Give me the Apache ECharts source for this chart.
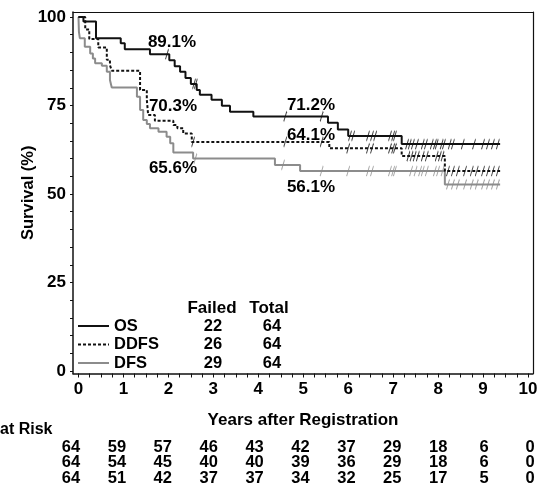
<!DOCTYPE html>
<html>
<head>
<meta charset="utf-8">
<script src="https://cdn.jsdelivr.net/npm/echarts@6/dist/echarts.min.js"></script>
<style>
  html, body { margin: 0; padding: 0; background: #fff; }
  #chart { width: 546px; height: 490px; }
</style>
</head>
<body>
<div id="chart"></div>
<script>
const FONT = '"Liberation Sans", Arial, Helvetica, sans-serif';

// Kaplan-Meier steps [years, survival %]
const osSteps = [
  [0, 100], [0.11, 98.7], [0.39, 94.0], [0.94, 92.6], [1.03, 90.9], [1.59, 89.5],
  [2.02, 87.8], [2.14, 86.1], [2.26, 84.5], [2.38, 82.8], [2.5, 81.1], [2.63, 79.4],
  [2.7, 78.0], [2.96, 76.6], [3.19, 74.9], [3.37, 73.2], [3.89, 71.9],
  [5.55, 70.1], [5.77, 68.2], [6.0, 66.4], [7.19, 64.1], [9.38, 64.1]
];
const ddfsSteps = [
  [0, 100], [0.15, 96.5], [0.24, 93.8], [0.44, 91.4], [0.63, 87.9], [0.7, 86.4],
  [0.74, 84.8], [1.37, 79.4], [1.52, 76.6], [1.55, 72.3], [1.7, 70.7], [2.11, 69.5],
  [2.2, 68.6], [2.33, 67.1], [2.52, 64.7], [5.58, 62.9], [7.19, 60.7], [8.15, 56.5],
  [9.38, 56.5]
];
const dfsSteps = [
  [0, 100], [0.01, 95.8], [0.03, 94.0], [0.14, 91.6], [0.26, 89.7], [0.32, 88.3],
  [0.37, 86.9], [0.52, 86.2], [0.63, 84.5], [0.7, 82.2], [0.74, 80.1], [1.3, 77.5],
  [1.37, 73.7], [1.44, 70.9], [1.52, 69.8], [1.59, 68.6], [1.78, 67.6], [1.96, 66.2],
  [2.04, 64.3], [2.11, 61.7], [2.55, 60.0], [4.37, 58.2], [4.93, 56.5], [8.15, 52.7],
  [9.38, 52.7]
];

// censoring times (years)
const osCensor = [1.97, 2.57, 2.61, 4.6, 5.41, 6.04, 6.11, 6.44, 6.53, 6.6, 6.93, 7.0, 7.04,
  7.31, 7.37, 7.44, 7.53, 7.66, 7.73, 7.86, 7.93, 7.97, 8.08, 8.13, 8.26, 8.33, 8.55,
  8.8, 9.0, 9.11, 9.22, 9.33];
const ddfsCensor = [2.55, 4.6, 5.41, 6.0, 6.44, 6.53, 6.93, 7.0, 7.04, 7.34, 7.41, 7.48,
  7.55, 7.66, 7.75, 7.97, 8.04, 8.1, 8.22, 8.33, 8.44, 8.6, 8.75, 8.86, 9.0, 9.11, 9.22, 9.33];
const dfsCensor = [2.6, 4.55, 5.41, 6.0, 6.44, 6.53, 6.93, 7.0, 7.04, 7.4, 7.5, 7.6, 7.66,
  7.75, 7.93, 8.0, 8.1, 8.22, 8.33, 8.44, 8.6, 8.75, 8.86, 9.0, 9.11, 9.22, 9.33];

const groupNames = ['OS', 'DDFS', 'DFS'];
const failedCounts = [22, 26, 29];
const totalCounts = [64, 64, 64];

const riskYears = [0, 1, 2, 3, 4, 5, 6, 7, 8, 9, 10];
const riskOS = [64, 59, 57, 46, 43, 42, 37, 29, 18, 6, 0];
const riskDDFS = [64, 54, 45, 40, 40, 39, 36, 29, 18, 6, 0];
const riskDFS = [64, 51, 42, 37, 37, 34, 32, 25, 17, 5, 0];

const xTickLabels = [0, 1, 2, 3, 4, 5, 6, 7, 8, 9, 10];
const xMinorTicks = Array.from({ length: 41 }, (_, i) => i * 0.25);
const yTickLabels = [0, 25, 50, 75, 100];
const yMinorTicks = Array.from({ length: 21 }, (_, i) => i * 5);

// survival value of a step curve at time t
const stepAt = (steps, t) => {
  let v = steps[0][1];
  steps.forEach(([x, y]) => { if (x <= t) v = y; });
  return v;
};

const chart = echarts.init(document.getElementById('chart'), null, { renderer: 'canvas' });

const black = '#111';
const grey = '#8c8c8c';
const tickPath = 'path://M3,0L0,9';

const censorSeries = (name, times, steps, color) => ({
  name: name + ' censored',
  type: 'scatter',
  xAxisIndex: 0,
  yAxisIndex: 0,
  symbol: tickPath,
  symbolSize: [3, 10],
  itemStyle: { color: 'rgba(0,0,0,0)', borderColor: color, borderWidth: 1.3 },
  data: times.map((t) => [t, stepAt(steps, t)]),
  silent: true,
  z: 3
});

const riskData = [];
[riskOS, riskDDFS, riskDFS].forEach((row, r) => {
  row.forEach((n, i) => riskData.push([riskYears[i], r, n]));
});

const textStyle = { color: '#000', fontFamily: FONT, fontWeight: 'bold' };
const bold17 = `bold 17px ${FONT}`;

const option = {
  animation: false,
  backgroundColor: '#fff',
  textStyle: { fontFamily: FONT },
  grid: [
    { left: 73, right: 13, top: 12, bottom: 116.5 },
    { left: 71, right: 16, top: 447.5, height: 30.5 }
  ],
  xAxis: [
    {
      gridIndex: 0,
      type: 'value',
      min: -0.122,
      max: 10.111,
      name: 'Years after Registration',
      nameLocation: 'middle',
      nameGap: 38,
      nameTextStyle: { ...textStyle, fontSize: 17 },
      axisLine: { show: true, onZero: false, lineStyle: { color: black, width: 1.5 } },
      axisTick: { show: true, customValues: xMinorTicks, length: 4, lineStyle: { color: black, width: 1 } },
      axisLabel: { customValues: xTickLabels, ...textStyle, fontSize: 17, margin: 7 },
      splitLine: { show: false }
    },
    {
      gridIndex: 0,
      type: 'value',
      position: 'top',
      min: -0.122,
      max: 10.111,
      axisLine: { show: true, onZero: false, lineStyle: { color: black, width: 1.2 } },
      axisTick: { show: false },
      axisLabel: { show: false },
      splitLine: { show: false }
    },
    { gridIndex: 1, type: 'value', min: 0, max: 10, show: false }
  ],
  yAxis: [
    {
      gridIndex: 0,
      type: 'value',
      min: -0.71,
      max: 101.41,
      name: 'Survival (%)',
      nameLocation: 'middle',
      nameGap: 36,
      nameMoveOverlap: false,
      nameTextStyle: { ...textStyle, fontSize: 16.5 },
      axisLine: { show: true, onZero: false, lineStyle: { color: black, width: 1.5 } },
      axisTick: { show: true, customValues: yMinorTicks, length: 3, lineStyle: { color: black, width: 1 } },
      axisLabel: { customValues: yTickLabels, ...textStyle, fontSize: 17, margin: 7 },
      splitLine: { show: false }
    },
    {
      gridIndex: 0,
      type: 'value',
      position: 'right',
      min: -0.71,
      max: 101.41,
      axisLine: { show: true, onZero: false, lineStyle: { color: black, width: 1.2 } },
      axisTick: { show: false },
      axisLabel: { show: false },
      splitLine: { show: false }
    },
    { gridIndex: 1, type: 'value', min: 0, max: 2, inverse: true, show: false }
  ],
  legend: {
    data: groupNames,
    orient: 'vertical',
    left: 77,
    top: 317,
    padding: 0,
    itemWidth: 31,
    itemHeight: 12,
    itemGap: 0.5,
    selectedMode: false,
    itemStyle: { opacity: 0 },
    formatter: (name) => {
      const i = groupNames.indexOf(name);
      return `{n|${name}}{f|${failedCounts[i]}}{t|${totalCounts[i]}}`;
    },
    textStyle: {
      ...textStyle,
      fontSize: 16.5,
      lineHeight: 18,
      rich: {
        n: { ...textStyle, fontSize: 16.5, width: 82 },
        f: { ...textStyle, fontSize: 16.5, width: 34, align: 'center' },
        t: { ...textStyle, fontSize: 16.5, width: 84, align: 'center' }
      }
    }
  },
  graphic: [
    { type: 'text', x: 212, y: 308, style: { text: 'Failed', align: 'center', verticalAlign: 'middle', font: bold17, fill: '#000' } },
    { type: 'text', x: 269, y: 308, style: { text: 'Total', align: 'center', verticalAlign: 'middle', font: bold17, fill: '#000' } },
    { type: 'text', x: 172, y: 42, style: { text: '89.1%', align: 'center', verticalAlign: 'middle', font: bold17, fill: '#000' } },
    { type: 'text', x: 173, y: 106, style: { text: '70.3%', align: 'center', verticalAlign: 'middle', font: bold17, fill: '#000' } },
    { type: 'text', x: 173, y: 168, style: { text: '65.6%', align: 'center', verticalAlign: 'middle', font: bold17, fill: '#000' } },
    { type: 'text', x: 311, y: 105, style: { text: '71.2%', align: 'center', verticalAlign: 'middle', font: bold17, fill: '#000' } },
    { type: 'text', x: 311, y: 135, style: { text: '64.1%', align: 'center', verticalAlign: 'middle', font: bold17, fill: '#000' } },
    { type: 'text', x: 311, y: 187, style: { text: '56.1%', align: 'center', verticalAlign: 'middle', font: bold17, fill: '#000' } },
    { type: 'text', x: 0, y: 430, style: { text: 'at Risk', align: 'left', verticalAlign: 'middle', font: `bold 16px ${FONT}`, fill: '#000' } }
  ],
  series: [
    {
      name: 'OS', type: 'line', step: 'end', xAxisIndex: 0, yAxisIndex: 0,
      symbol: 'none', data: osSteps, z: 4,
      lineStyle: { color: black, width: 2 }, itemStyle: { color: black }
    },
    {
      name: 'DDFS', type: 'line', step: 'end', xAxisIndex: 0, yAxisIndex: 0,
      symbol: 'none', data: ddfsSteps, z: 4,
      lineStyle: { color: black, width: 2, type: [3, 2] }, itemStyle: { color: black }
    },
    {
      name: 'DFS', type: 'line', step: 'end', xAxisIndex: 0, yAxisIndex: 0,
      symbol: 'none', data: dfsSteps, z: 3,
      lineStyle: { color: grey, width: 2 }, itemStyle: { color: grey }
    },
    censorSeries('OS', osCensor, osSteps, black),
    censorSeries('DDFS', ddfsCensor, ddfsSteps, black),
    censorSeries('DFS', dfsCensor, dfsSteps, grey),
    {
      name: 'at risk',
      type: 'scatter',
      xAxisIndex: 2,
      yAxisIndex: 2,
      symbolSize: 1,
      itemStyle: { color: '#fff', opacity: 1 },
      silent: true,
      label: {
        show: true,
        position: 'inside',
        formatter: (p) => String(p.value[2]),
        color: '#000',
        fontFamily: FONT,
        fontWeight: 'bold',
        textBorderWidth: 0,
        opacity: 1,
        fontSize: 16.5
      },
      data: riskData
    }
  ]
};

chart.setOption(option);
</script>
</body>
</html>
